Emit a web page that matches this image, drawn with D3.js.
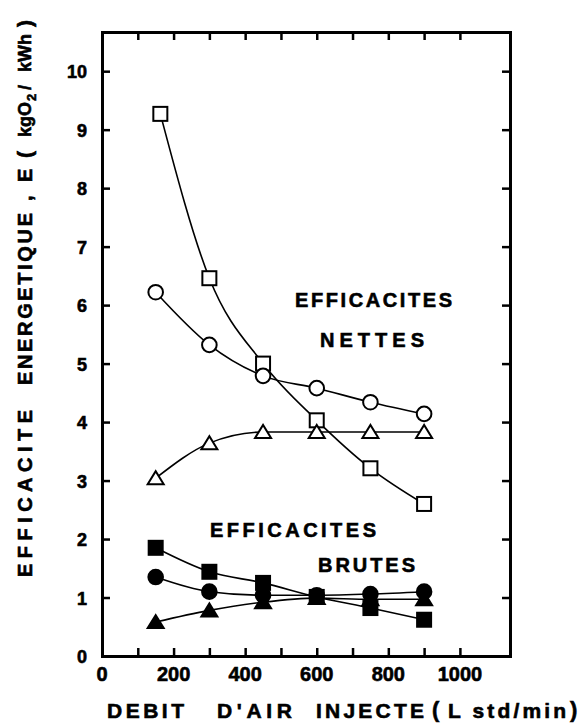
<!DOCTYPE html>
<html><head><meta charset="utf-8">
<script src="https://cdn.jsdelivr.net/npm/d3@7"></script>
<style>
html,body{margin:0;padding:0;background:#fff;}
svg{display:block;}
text{font-family:"Liberation Sans",Arial,sans-serif;font-weight:bold;fill:#000;stroke:#000;stroke-width:0.6px;}
</style></head>
<body><svg id="c" width="581" height="723"></svg>
<script>
// ---- data ----
const debitNetSquare = [163, 300, 450, 600, 750, 900];
const debit = [150, 300, 450, 600, 750, 900];
const netSquare   = [9.27, 6.46, 5.00, 4.03, 3.21, 2.60];
const netCircle   = [6.22, 5.32, 4.79, 4.58, 4.34, 4.14];
const netTriangle = [3.04, 3.64, 3.83, 3.83, 3.83, 3.83];
const brutSquare   = [1.85, 1.44, 1.25, 1.01, 0.82, 0.62];
const brutCircle   = [1.35, 1.10, 1.04, 1.04, 1.06, 1.10];
const brutTriangle = [0.58, 0.78, 0.92, 0.99, 0.97, 0.97];
const xTickLabels = [0, 200, 400, 600, 800, 1000];
const xMinorTicks = [100, 200, 300, 400, 500, 600, 700, 800, 900, 1000];
const yTicks = [0, 1, 2, 3, 4, 5, 6, 7, 8, 9, 10];

const svg = d3.select("#c");
const L = 102, R = 510, T = 32, B = 656;
const x = d3.scaleLinear().domain([0, 1140]).range([L, R]);
const y = d3.scaleLinear().domain([0, 10.67]).range([B, T]);

// spread the letters of a text so that its visible width is w
function spread(sel, w) {
  sel.each(function(d) {
    const target = typeof w === "function" ? w(d) : w;
    if (!target) return;
    const n = this.textContent.length;
    const nat = this.getComputedTextLength();
    if (n > 1) d3.select(this).style("letter-spacing", ((target - nat) / (n - 1)) + "px");
  });
}

// frame & ticks
const axStyle = g => { g.selectAll("path.domain").attr("stroke", "#000").attr("stroke-width", 3);
  g.selectAll(".tick line").attr("stroke", "#000").attr("stroke-width", 2.5);
  g.selectAll(".tick text").remove(); };
svg.append("g").attr("transform", `translate(0,${B})`)
  .call(d3.axisBottom(x).tickValues(xMinorTicks).tickSizeInner(-8).tickSizeOuter(0)).call(axStyle);
svg.append("g").attr("transform", `translate(0,${T})`)
  .call(d3.axisTop(x).tickValues(xMinorTicks).tickSizeInner(-8).tickSizeOuter(0)).call(axStyle);
svg.append("g").attr("transform", `translate(${L},0)`)
  .call(d3.axisLeft(y).tickValues(yTicks.slice(1)).tickSizeInner(-8).tickSizeOuter(0)).call(axStyle);
svg.append("g").attr("transform", `translate(${R},0)`)
  .call(d3.axisRight(y).tickValues(yTicks.slice(1)).tickSizeInner(-8).tickSizeOuter(0)).call(axStyle);
svg.selectAll("path.domain").attr("stroke-linecap", "square");

// tick labels
svg.append("g").selectAll("text").data(xTickLabels).join("text")
  .attr("x", d => x(d)).attr("y", 681).attr("text-anchor", "middle")
  .style("font-size", "20px").text(d => d);
svg.append("g").selectAll("text").data(yTicks).join("text")
  .attr("x", 87).attr("y", d => y(d) + 7).attr("text-anchor", "end")
  .style("font-size", "18px").text(d => d);

// axis titles (pieces placed along the axis; len = visible width, 0 = natural)
const xTitle = [
  { t: "DEBIT", a: 107, len: 77, fs: 21, by: 718 },
  { t: "D'AIR", a: 217, len: 75, fs: 21, by: 718 },
  { t: "INJECTE", a: 316, len: 108, fs: 21, by: 718 },
  { t: "(", a: 432, len: 0, fs: 22, by: 717 },
  { t: "L std/min", a: 448, len: 118, fs: 21, by: 718 },
  { t: ")", a: 570, len: 0, fs: 22, by: 717 }
];
svg.append("g").selectAll("text").data(xTitle).join("text")
  .attr("x", d => d.a).attr("y", d => d.by)
  .style("font-size", d => d.fs + "px").style("white-space", "pre").text(d => d.t)
  .call(spread, d => d.len);

const yTitle = [
  { t: "EFFICACITE", a: 577, len: 167, fs: 20, cx: 32 },
  { t: "ENERGETIQUE", a: 385, len: 172, fs: 20, cx: 32 },
  { t: ",", a: 201, len: 0, fs: 20, cx: 32 },
  { t: "E", a: 182, len: 0, fs: 20, cx: 32 },
  { t: "(", a: 158, len: 0, fs: 21, cx: 32 },
  { t: "kgO", a: 137, len: 0, fs: 18, cx: 31 },
  { t: "2", a: 101, len: 0, fs: 13, cx: 36 },
  { t: "/", a: 90, len: 0, fs: 18, cx: 31 },
  { t: "kWh", a: 72, len: 0, fs: 18, cx: 31 },
  { t: ")", a: 27, len: 0, fs: 21, cx: 32 }
];
svg.append("g").selectAll("text").data(yTitle).join("text")
  .attr("transform", d => `translate(${d.cx},${d.a}) rotate(-90)`)
  .style("font-size", d => d.fs + "px").text(d => d.t)
  .call(spread, d => d.len);

// series
const series = [
  { xs: debitNetSquare, ys: netSquare, shape: "square", fill: "#fff" },
  { xs: debit, ys: netCircle, shape: "circle", fill: "#fff" },
  { xs: debit, ys: netTriangle, shape: "triangle", fill: "#fff" },
  { xs: debit, ys: brutSquare, shape: "square", fill: "#000" },
  { xs: debit, ys: brutCircle, shape: "circle", fill: "#000" },
  { xs: debit, ys: brutTriangle, shape: "triangle", fill: "#000" }
];
const line = d3.line().x(d => x(d[0])).y(d => y(d[1])).curve(d3.curveMonotoneX);
series.forEach(s => {
  const pts = s.xs.map((v, i) => [v, s.ys[i]]);
  svg.append("path").attr("d", line(pts)).attr("fill", "none")
    .attr("stroke", "#000").attr("stroke-width", 1.6);
});
series.forEach(s => {
  const pts = s.xs.map((v, i) => [v, s.ys[i]]);
  const g = svg.append("g");
  pts.forEach(p => {
    const cx = x(p[0]), cy = y(p[1]);
    if (s.shape === "square") {
      g.append("rect").attr("x", cx - 7).attr("y", cy - 7).attr("width", 14).attr("height", 14)
        .attr("fill", s.fill).attr("stroke", "#000").attr("stroke-width", 2);
    } else if (s.shape === "circle") {
      g.append("circle").attr("cx", cx).attr("cy", cy).attr("r", 7.3)
        .attr("fill", s.fill).attr("stroke", "#000").attr("stroke-width", 2);
    } else {
      g.append("path").attr("d", `M${cx - 8},${cy + 6}L${cx + 8},${cy + 6}L${cx},${cy - 7}Z`)
        .attr("fill", s.fill).attr("stroke", "#000").attr("stroke-width", 2).attr("stroke-linejoin", "miter");
    }
  });
});

// annotations
const ann = [
  { t: "EFFICACITES", x0: 295, y: 307, w: 157 },
  { t: "NETTES", x0: 320, y: 347, w: 104 },
  { t: "EFFICACITES", x0: 210, y: 537, w: 166 },
  { t: "BRUTES", x0: 318, y: 572, w: 97 }
];
svg.append("g").selectAll("text").data(ann).join("text")
  .attr("x", d => d.x0).attr("y", d => d.y)
  .style("font-size", "20px").text(d => d.t)
  .call(spread, d => d.w);
</script></body></html>
